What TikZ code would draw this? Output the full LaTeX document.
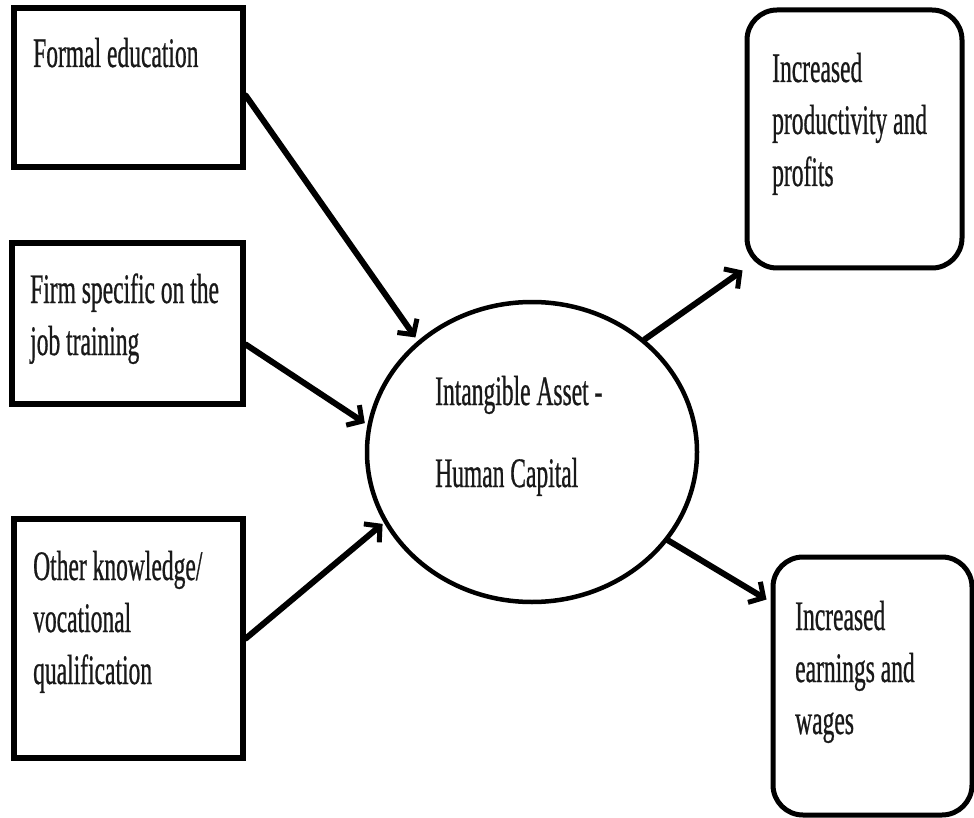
\documentclass[tikz,border=0pt]{standalone}
\usepackage{fontspec}
\setmainfont{Liberation Serif}[FakeStretch=0.56,FakeBold=0.6]
\usetikzlibrary{arrows.meta,shapes.geometric}

% stacked lines whose first baseline is the node's base
\newcommand{\stackedlines}[1]{\begin{tabular}[t]{@{}l@{}}#1\end{tabular}}

\begin{document}
\begin{tikzpicture}[x=1pt,y=-1pt,
  sourcebox/.style={draw=black, line width=5.5pt, rectangle, inner sep=0pt},
  outcomebox/.style={draw=black, line width=5pt, rectangle, rounded corners=30pt, inner sep=0pt},
  hub/.style={draw=black, line width=4.5pt, ellipse, inner sep=0pt,
    minimum width=330pt, minimum height=300pt},
  label/.style={anchor=base west, inner sep=0pt, text=black!90,
    font=\fontsize{42}{52}\selectfont},
  hublabel/.style={anchor=base west, inner sep=0pt, text=black!90,
    font=\fontsize{42}{82}\selectfont},
  link/.style={line width=6pt, line cap=round,
    -{Straight Barb[length=11pt,width=24pt,line width=5pt]}}
]
\useasboundingbox (0,0) rectangle (974,818);

% input boxes on the left
\node[sourcebox, minimum width=229pt, minimum height=159pt] (edu) at (128.5,87.5) {};
\node[sourcebox, minimum width=231pt, minimum height=161pt] (firm) at (127.5,323.5) {};
\node[sourcebox, minimum width=229pt, minimum height=239pt] (other) at (128.5,638.5) {};

% central ellipse
\node[hub] (hc) at (532,452) {};

% outcome boxes on the right
\node[outcomebox, minimum width=215pt, minimum height=258pt] (prod) at (854.5,139) {};
\node[outcomebox, minimum width=199pt, minimum height=258pt] (earn) at (872.5,686) {};

% texts
\node[label] (tedu) at (33,67) {Formal education};
\node[label] (tfirm) at (30,303) {\stackedlines{Firm specific on the\\job training}};
\node[label] (tother) at (33,580) {\stackedlines{Other knowledge/\\vocational\\qualification}};
\node[hublabel] (thc) at (435,405) {\stackedlines{Intangible Asset -\\Human Capital}};
\node[label] (tprod) at (772,82) {\stackedlines{Increased\\productivity and\\profits}};
\node[label] (tearn) at (795,630) {\stackedlines{Increased\\earnings and\\wages}};

% connectors
\draw[link] ([yshift=-8pt]edu.east) -- ([shift={(-4pt,2pt)}]hc.135);
\draw[link] ([yshift=-21pt]firm.east) -- ([xshift=-3pt]hc.170);
\draw[link] (other.east) -- ([xshift=-2pt]hc.206);
\draw[link] (hc.45) -- ([xshift=-2pt]prod.south west);
\draw[link] (hc.-33) -- ([shift={(-4pt,-45pt)}]earn.north west);
\end{tikzpicture}
\end{document}
